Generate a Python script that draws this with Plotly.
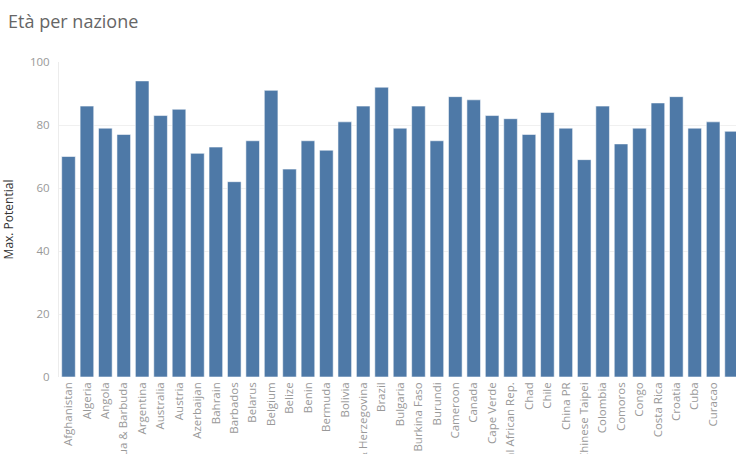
import plotly.graph_objects as go

countries = ["Afghanistan", "Algeria", "Angola", "Antigua & Barbuda", "Argentina", "Australia",
             "Austria", "Azerbaijan", "Bahrain", "Barbados", "Belarus", "Belgium", "Belize",
             "Benin", "Bermuda", "Bolivia", "Bosnia & Herzegovina", "Brazil", "Bulgaria",
             "Burkina Faso", "Burundi", "Cameroon", "Canada", "Cape Verde", "Central African Rep.",
             "Chad", "Chile", "China PR", "Chinese Taipei", "Colombia", "Comoros", "Congo",
             "Costa Rica", "Croatia", "Cuba", "Curacao", "Cyprus"]
max_potential = [70, 86, 79, 77, 94, 83, 85, 71, 73, 62, 75, 91, 66, 75, 72, 81, 86, 92, 79,
                 86, 75, 89, 88, 83, 82, 77, 84, 79, 69, 86, 74, 79, 87, 89, 79, 81, 78]
y_ticks = [0, 20, 40, 60, 80, 100]

fig = go.Figure(go.Bar(
    x=list(range(len(countries))),
    y=max_potential,
    width=0.74,
    marker=dict(color="#4e79a7", line=dict(color="rgba(255,255,255,0.55)", width=1)),
    hoverinfo="skip",
))

fig.update_layout(
    width=736, height=454,
    margin=dict(l=59, r=0, t=62, b=77),
    paper_bgcolor="white", plot_bgcolor="white",
    showlegend=False,
    font=dict(family="Open Sans, sans-serif", color="#999999"),
    title=dict(text="Età per nazione", x=0.011, xanchor="left", y=0.952, yanchor="middle",
               font=dict(size=18, color="#666666", family="Open Sans, sans-serif")),
    bargap=0.26,
)

fig.update_xaxes(
    tickmode="array", tickvals=list(range(len(countries))), ticktext=countries,
    tickangle=-90, range=[-0.516, 36.24], automargin=False,
    tickfont=dict(size=11.5, color="#999999"),
    showgrid=False, zeroline=False, showline=False, ticks="", ticklabelstandoff=2,
)
fig.update_yaxes(
    range=[0, 100], tickvals=y_ticks, automargin=False,
    tickfont=dict(size=11.5, color="#999999"),
    showgrid=True, gridcolor="#f0f0f0", gridwidth=1,
    zeroline=False, showline=True, linecolor="#ececec", linewidth=1,
    ticks="", ticklabelstandoff=6,
    title=dict(text="Max. Potential", font=dict(size=12, color="#333333"), standoff=20),
)

fig.write_html("out.html", config={"displayModeBar": False},
               post_script="document.body.style.margin='0';")
